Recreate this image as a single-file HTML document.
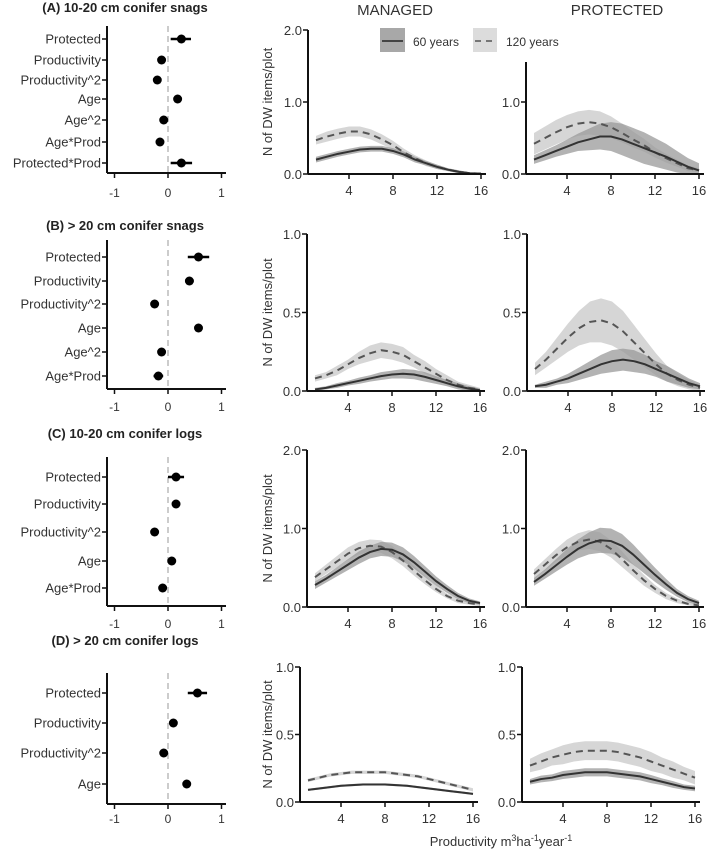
<!DOCTYPE html>
<html><head><meta charset="utf-8"><style>
html,body{margin:0;padding:0;background:#fff;}
svg{display:block;font-family:"Liberation Sans",Arial,sans-serif;}
</style></head><body>
<svg id="fig" width="708" height="853" viewBox="0 0 708 853"></svg>
<script>
// ---- coefficient data ----
const coefLabelsA=["Protected","Productivity","Productivity^2","Age","Age^2","Age*Prod","Protected*Prod"];
const coefEstA=[0.25,-0.12,-0.2,0.18,-0.08,-0.15,0.25];
const coefLoA=[0.05,-0.17,-0.25,0.13,-0.12,-0.2,0.05];
const coefHiA=[0.43,-0.07,-0.15,0.23,-0.04,-0.1,0.45];
const coefLabelsB=["Protected","Productivity","Productivity^2","Age","Age^2","Age*Prod"];
const coefEstB=[0.57,0.4,-0.25,0.57,-0.12,-0.18];
const coefLoB=[0.37,0.32,-0.31,0.5,-0.16,-0.27];
const coefHiB=[0.77,0.48,-0.19,0.64,-0.08,-0.09];
const coefLabelsC=["Protected","Productivity","Productivity^2","Age","Age*Prod"];
const coefEstC=[0.15,0.15,-0.25,0.07,-0.1];
const coefLoC=[0.0,0.09,-0.3,0.02,-0.15];
const coefHiC=[0.3,0.21,-0.2,0.12,-0.05];
const coefLabelsD=["Protected","Productivity","Productivity^2","Age"];
const coefEstD=[0.55,0.1,-0.08,0.35];
const coefLoD=[0.37,0.05,-0.13,0.3];
const coefHiD=[0.73,0.15,-0.03,0.4];
const coefTicks=[-1,0,1];
// ---- prediction data (productivity 1..16) ----
const prod=[1,2,3,4,5,6,7,8,9,10,11,12,13,14,15,16];
const xTicks=[4,8,12,16];
const aMan60=[.2,.24,.28,.31,.34,.35,.35,.32,.27,.2,.15,.1,.06,.03,.01,.005];
const aMan60e=[.04,.04,.04,.04,.04,.04,.04,.04,.04,.04,.03,.03,.02,.02,.01,.01];
const aMan120=[.47,.52,.56,.59,.59,.55,.48,.4,.3,.22,.15,.1,.06,.03,.01,.005];
const aMan120e=[.06,.07,.07,.07,.07,.07,.07,.06,.05,.04,.04,.03,.02,.02,.01,.01];
const aPro60=[.2,.26,.32,.38,.44,.48,.52,.52,.48,.42,.36,.3,.24,.17,.1,.05];
const aPro60e=[.06,.07,.08,.1,.12,.15,.18,.2,.22,.22,.22,.2,.18,.15,.12,.1];
const aPro120=[.42,.5,.58,.65,.7,.72,.7,.65,.57,.48,.4,.3,.22,.15,.08,.05];
const aPro120e=[.15,.16,.17,.17,.17,.17,.17,.15,.13,.11,.09,.07,.06,.05,.04,.03];
const bMan60=[.01,.02,.035,.05,.065,.08,.095,.105,.11,.105,.09,.07,.05,.03,.015,.005];
const bMan60e=[.01,.01,.015,.015,.02,.02,.025,.025,.03,.03,.03,.025,.02,.02,.015,.01];
const bMan120=[.08,.1,.13,.17,.21,.24,.26,.25,.23,.19,.15,.11,.07,.04,.02,.01];
const bMan120e=[.02,.02,.03,.03,.04,.05,.05,.05,.05,.04,.04,.03,.03,.02,.02,.01];
const bPro60=[.03,.04,.06,.08,.11,.14,.17,.19,.2,.19,.17,.14,.11,.08,.05,.03];
const bPro60e=[.01,.02,.02,.03,.04,.05,.06,.07,.07,.07,.06,.05,.05,.04,.03,.02];
const bPro120=[.14,.2,.27,.34,.4,.44,.45,.43,.38,.31,.24,.17,.11,.07,.04,.02];
const bPro120e=[.04,.05,.07,.09,.11,.13,.14,.14,.13,.11,.09,.07,.05,.04,.03,.02];
const cMan60=[.28,.36,.45,.54,.63,.7,.74,.73,.67,.57,.45,.33,.23,.14,.08,.05];
const cMan60e=[.05,.05,.06,.07,.08,.08,.09,.09,.09,.08,.07,.06,.05,.04,.03,.02];
const cMan120=[.38,.48,.58,.68,.75,.78,.77,.7,.59,.46,.34,.23,.14,.08,.05,.03];
const cMan120e=[.05,.06,.07,.08,.08,.08,.08,.08,.07,.06,.05,.04,.03,.03,.02,.02];
const cPro60=[.32,.42,.53,.64,.74,.81,.85,.84,.78,.67,.54,.41,.29,.18,.1,.05];
const cPro60e=[.05,.06,.08,.1,.12,.14,.16,.16,.15,.13,.11,.09,.07,.05,.04,.03];
const cPro120=[.42,.54,.66,.76,.83,.86,.83,.74,.61,.47,.34,.23,.14,.08,.04,.02];
const cPro120e=[.06,.07,.08,.1,.11,.12,.12,.11,.1,.08,.07,.05,.04,.03,.02,.02];
const dMan60=[.09,.1,.11,.12,.125,.13,.13,.13,.125,.12,.11,.1,.09,.08,.07,.06];
const dMan60e=[.008,.008,.008,.008,.008,.008,.008,.008,.008,.008,.008,.008,.008,.008,.008,.008];
const dMan120=[.16,.18,.2,.21,.22,.22,.22,.22,.21,.2,.19,.17,.15,.13,.11,.09];
const dMan120e=[.012,.012,.012,.012,.012,.012,.012,.012,.012,.012,.012,.012,.012,.012,.012,.012];
const dPro60=[.15,.17,.18,.2,.21,.22,.22,.22,.21,.2,.19,.17,.15,.13,.11,.1];
const dPro60e=[.02,.025,.025,.03,.03,.03,.03,.03,.03,.03,.03,.03,.025,.025,.02,.02];
const dPro120=[.27,.3,.33,.35,.37,.38,.38,.38,.37,.35,.33,.3,.27,.24,.21,.18];
const dPro120e=[.05,.06,.06,.07,.07,.07,.07,.07,.07,.07,.07,.07,.06,.06,.05,.05];

const NS="http://www.w3.org/2000/svg";
const svg=document.getElementById('fig');
function mk(tag,at,parent){const e=document.createElementNS(NS,tag);for(const k in at)e.setAttribute(k,at[k]);(parent||svg).appendChild(e);return e;}
function txt(x,y,s,at,parent){const t=mk('text',Object.assign({x:x,y:y},at||{}),parent);t.textContent=s;return t;}

// headers
let t=txt(395,15,"MANAGED",{"text-anchor":"middle","font-size":15,fill:"#333"});


t=txt(617,15,"PROTECTED",{"text-anchor":"middle","font-size":15,fill:"#333"});


// legend
const lg=mk('g',{});


mk('rect',{x:380,y:28,width:25,height:24,fill:"#a8a8a8"},lg);
mk('line',{x1:382,y1:41,x2:403,y2:41,stroke:"#222","stroke-width":1.5},lg);
txt(413,46,"60 years",{"font-size":12,fill:"#333"},lg);
mk('rect',{x:473,y:28,width:24,height:24,fill:"#dcdcdc"},lg);
mk('line',{x1:475,y1:41,x2:495,y2:41,stroke:"#555","stroke-width":1.5,"stroke-dasharray":"6,5"},lg);
txt(506,46,"120 years",{"font-size":12,fill:"#333"},lg);

function coefPanel(name,title,titleY,axTop,axBot,rowsY,labels,est,lo,hi,tickY){
  const g=mk('g',{});
  
  
  const cx=v=>168+53.5*v;
  txt(125,titleY,title,{"text-anchor":"middle","font-size":13,"font-weight":"bold",fill:"#222"},g);
  mk('line',{x1:168,y1:axTop,x2:168,y2:axBot,stroke:"#bbb","stroke-width":1.5,"stroke-dasharray":"6,4"},g);
  mk('line',{x1:107,y1:axTop,x2:107,y2:axBot,stroke:"#111","stroke-width":2},g);
  mk('line',{x1:107,y1:axBot,x2:226,y2:axBot,stroke:"#111","stroke-width":2},g);
  coefTicks.forEach(v=>{mk('line',{x1:cx(v),y1:axBot,x2:cx(v),y2:axBot+5,stroke:"#111","stroke-width":1.5},g);
    txt(cx(v),tickY,String(v),{"text-anchor":"middle","font-size":12,fill:"#333"},g);});
  labels.forEach((l,i)=>{const y=rowsY[i];
    mk('line',{x1:102,y1:y,x2:107,y2:y,stroke:"#111","stroke-width":1.5},g);
    txt(101,y+4.5,l,{"text-anchor":"end","font-size":13,fill:"#333"},g);
    const ln=mk('line',{x1:cx(lo[i]),y1:y,x2:cx(hi[i]),y2:y,stroke:"#000","stroke-width":2.5},g);
    
    
    const c=mk('circle',{cx:cx(est[i]),cy:y,r:4.5,fill:"#000"},g);
    
    
  });
}
coefPanel('coef-panel-a',"(A) 10-20 cm conifer snags",12,26,173,[39,60,80,99,120,142,163],coefLabelsA,coefEstA,coefLoA,coefHiA,197);
coefPanel('coef-panel-b',"(B) > 20 cm conifer snags",230,240,389,[257,281,304,328,352,376],coefLabelsB,coefEstB,coefLoB,coefHiB,411);
coefPanel('coef-panel-c',"(C) 10-20 cm conifer logs",438,457,606,[477,504,532,561,588],coefLabelsC,coefEstC,coefLoC,coefHiC,628);
coefPanel('coef-panel-d',"(D) > 20 cm conifer logs",645,673,804,[693,723,753,784],coefLabelsD,coefEstD,coefLoD,coefHiD,823);

function predPanel(name,axX,y0,pxPerUnit,top,yTicks,s60,e60,s120,e120,ylab){
  const g=mk('g',{});
  
  
  const X=p=>axX-3+11*p, Y=v=>y0-v*pxPerUnit;
  function band(s,e,fill,op,nm){
    let d=prod.map((p,i)=>(i?'L':'M')+X(p)+','+Y(s[i]+e[i])).join('');
    for(let i=prod.length-1;i>=0;i--)d+='L'+X(prod[i])+','+Y(Math.max(0,s[i]-e[i]));
    const b=mk('path',{d:d+'Z',fill:fill,"fill-opacity":op},g);
    
    
  }
  function line(s,stroke,dash,nm){
    const d=prod.map((p,i)=>(i?'L':'M')+X(p)+','+Y(s[i])).join('');
    const l=mk('path',{d:d,fill:"none",stroke:stroke,"stroke-width":2,"stroke-dasharray":dash},g);
    
    
  }
  band(s120,e120,"#d6d6d6",1,'band-120-years');
  band(s60,e60,"#999",0.75,'band-60-years');
  line(s120,"#555","7,5",'line-120-years');
  line(s60,"#333","",'line-60-years');
  mk('line',{x1:axX,y1:top,x2:axX,y2:y0,stroke:"#111","stroke-width":2},g);
  mk('line',{x1:axX,y1:y0,x2:axX+178,y2:y0,stroke:"#111","stroke-width":2},g);
  yTicks.forEach(v=>{mk('line',{x1:axX-5,y1:Y(v),x2:axX,y2:Y(v),stroke:"#111","stroke-width":1.5},g);
    txt(axX-6,Y(v)+5,v.toFixed(1),{"text-anchor":"end","font-size":13,fill:"#333"},g);});
  xTicks.forEach(v=>{mk('line',{x1:X(v),y1:y0,x2:X(v),y2:y0+5,stroke:"#111","stroke-width":1.5},g);
    txt(X(v),y0+21,String(v),{"text-anchor":"middle","font-size":13,fill:"#333"},g);});
  if(ylab){const ty=(top+y0)/2;
    const tl=txt(0,0,"N of DW items/plot",{"text-anchor":"middle","font-size":13,fill:"#333",transform:"translate(272,"+ty+") rotate(-90)"},g);
    
    }
}
predPanel('managed-a',308,174,72,30,[0,1,2],aMan60,aMan60e,aMan120,aMan120e,true);
predPanel('protected-a',526,174,72,62,[0,1],aPro60,aPro60e,aPro120,aPro120e,false);
predPanel('managed-b',307,391,157,234,[0,0.5,1],bMan60,bMan60e,bMan120,bMan120e,true);
predPanel('protected-b',527,391,157,234,[0,0.5,1],bPro60,bPro60e,bPro120,bPro120e,false);
predPanel('managed-c',307,607,78.5,450,[0,1,2],cMan60,cMan60e,cMan120,cMan120e,true);
predPanel('protected-c',526,607,78.5,450,[0,1,2],cPro60,cPro60e,cPro120,cPro120e,false);
predPanel('managed-d',300,802,135,667,[0,0.5,1],dMan60,dMan60e,dMan120,dMan120e,true);
predPanel('protected-d',522,802,135,667,[0,0.5,1],dPro60,dPro60e,dPro120,dPro120e,false);

const xl=txt(501,846,"",{"text-anchor":"middle","font-size":13,fill:"#333"});


xl.innerHTML='Productivity m<tspan dy="-5" font-size="9">3</tspan><tspan dy="5">ha</tspan><tspan dy="-5" font-size="9">-1</tspan><tspan dy="5">year</tspan><tspan dy="-5" font-size="9">-1</tspan>';
</script>
</body></html>
